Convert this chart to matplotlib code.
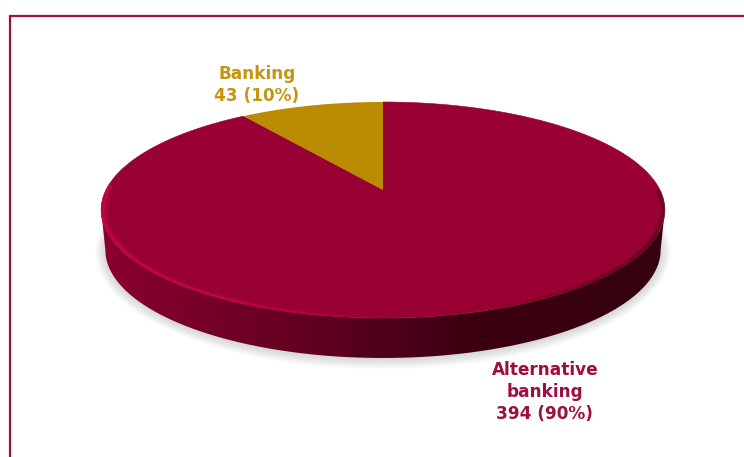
import numpy as np
import matplotlib
matplotlib.use('Agg')
import matplotlib.pyplot as plt
from matplotlib.collections import LineCollection
from matplotlib.colors import LinearSegmentedColormap, to_rgb
from matplotlib.patches import Polygon

# ── Data ───────────────────────────────────────────────────────────────────────

labels = ['Alternative\nbanking', 'Banking']
values = [394, 43]
shares = ['90%', '10%']

# ── Style ──────────────────────────────────────────────────────────────────────

CRIMSON = '#990033'
GOLD = '#BA8B00'
FRAME = '#9C0F40'
GOLD_TEXT = '#C4960F'
CRIMSON_TEXT = '#9C0F40'

plt.rcParams['font.family'] = ['DejaVu Sans']

# ── Tilted disc: circle -> screen, with perspective ────────────────────────────

CX, CY = 383.0, 190.0
A, B, K = 277.0, 104.3, 0.185
DEPTH = 40.0
N = 720


def project(theta, scale=1.0):
    u, v = np.sin(theta), np.cos(theta)
    w = 1 + K * v
    return CX + scale * A * u / w, 210 + scale * (CY - B * v / w - 210)


def lower_rim(theta):
    x, y = project(theta)
    return CX + (x - CX) * 0.985, y + DEPTH


def wedge(start, stop):
    t = np.linspace(start, stop, 300)
    x, y = project(t)
    return np.r_[CX, x], np.r_[CY, y]


fig = plt.figure(figsize=(7.44, 4.57), dpi=100)
ax = fig.add_axes([0, 0, 1, 1])

# Frame runs off the right and bottom edges
ax.plot([744, 10, 10], [15.5, 15.5, 457], color=FRAME, lw=1.6, solid_joinstyle='miter')

# ── Soft shadow under the disc ─────────────────────────────────────────────────

theta = np.linspace(0, 2 * np.pi, N)
for grow in np.linspace(10, 0, 11):
    x, y = lower_rim(theta)
    sx = CX + (x - CX) * (1 + grow / 282)
    sy = 238 + (y - 238) * (1 + grow / 120) + 1
    ax.fill(sx, sy, color='#8a8a8a', alpha=0.032, lw=0, zorder=1)

# ── Side wall, dark towards the right ──────────────────────────────────────────

side_cmap = LinearSegmentedColormap.from_list(
    'side',
    [(0.0, '#8A002E'), (0.2, '#74002A'), (0.35, '#640020'), (0.5, '#50001A'),
     (0.65, '#3C0011'), (1.0, '#36000E')],
)
t = np.linspace(np.pi / 2 + 0.186, 3 * np.pi / 2 - 0.186, 400)
tx, ty = project(t)
bx, by = lower_rim(t)
outline = np.column_stack([np.r_[tx, bx[::-1]], np.r_[ty, by[::-1]]])
ramp = np.linspace(0, 1, 563).reshape(1, -1)
wall = ax.imshow(ramp, cmap=side_cmap, extent=(101, 664, 360, 200), aspect='auto', zorder=2)
wall.set_clip_path(Polygon(outline, closed=True, transform=ax.transData))

# ── Top face, wedges sized from the counts ─────────────────────────────────────

total = sum(values)
sweep = [2 * np.pi * v / total for v in values]
ax.fill(*wedge(0, sweep[0]), color=CRIMSON, lw=0.4, zorder=3)
ax.fill(*wedge(sweep[0], sweep[0] + sweep[1]), color=GOLD, lw=0, zorder=4)

# ── Bevel just inside the front edge of the top face ───────────────────────────

t = np.linspace(np.pi / 2, 3 * np.pi / 2 + 0.05, 500)
for scale, strength in [(0.997, 0.75), (0.991, 1.0), (0.985, 0.5)]:
    x, y = project(t, scale)
    pts = np.column_stack([x, y])
    segs = np.stack([pts[:-1], pts[1:]], axis=1)
    fade = np.clip((x[:-1] - 101) / 563, 0, 1)

    glow = np.zeros((len(segs), 4))
    glow[:, :3] = to_rgb('#C8064A')
    glow[:, 3] = np.clip(1.0 - fade * 1.9, 0, 1) * strength
    ax.add_collection(LineCollection(segs, colors=glow, linewidths=1.5, zorder=5))

    shade = np.zeros((len(segs), 4))
    shade[:, :3] = to_rgb('#4A0016')
    shade[:, 3] = np.clip((fade - 0.7) * 2.0, 0, 0.5) * strength
    ax.add_collection(LineCollection(segs, colors=shade, linewidths=1.5, zorder=5))

# ── Labels ─────────────────────────────────────────────────────────────────────

ax.text(257, 85, f'{labels[1]}\n{values[1]} ({shares[1]})', color=GOLD_TEXT,
        fontsize=12.2, fontweight='bold', ha='center', va='center', linespacing=1.27, zorder=6)
ax.text(545, 392, f'{labels[0]}\n{values[0]} ({shares[0]})', color=CRIMSON_TEXT,
        fontsize=12.2, fontweight='bold', ha='center', va='center', linespacing=1.27, zorder=6)

ax.set_xlim(0, 744)
ax.set_ylim(457, 0)
ax.axis('off')

fig.savefig('out.png', dpi=100)
